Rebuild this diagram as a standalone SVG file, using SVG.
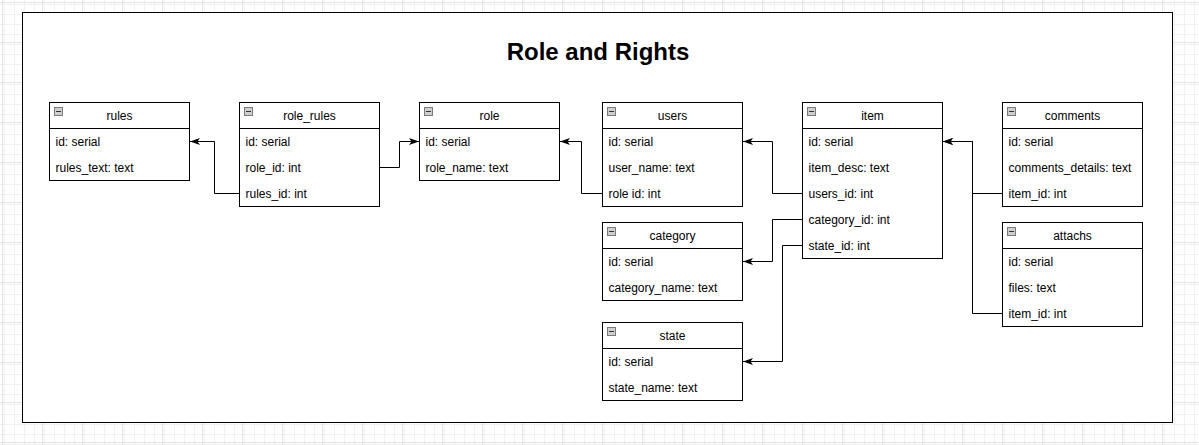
<svg xmlns="http://www.w3.org/2000/svg" width="1199" height="445" viewBox="0 0 1199 445">
<defs>
<pattern id="minor" x="2" y="2" width="10" height="10" patternUnits="userSpaceOnUse">
<path d="M0 0.5H10M0.5 0V10" fill="none" stroke="#f1f1f1" stroke-width="1"/>
</pattern>
<pattern id="major" x="2" y="2" width="40" height="40" patternUnits="userSpaceOnUse">
<rect width="40" height="40" fill="url(#minor)"/>
<path d="M0 0.5H40M0.5 0V40" fill="none" stroke="#e3e3e3" stroke-width="1"/>
</pattern>
<marker id="arr" viewBox="0 0 10 10" refX="10" refY="5" markerWidth="10" markerHeight="10" markerUnits="userSpaceOnUse" orient="auto">
<path d="M0 1.5L10 5L0 8.5L2.5 5Z" fill="#000"/>
</marker>
<g id="icon">
<rect x="0.5" y="0.5" width="8" height="8" fill="#cfcfcf" stroke="#7a7a7a" stroke-width="1"/>
<path d="M2 4.5H7" stroke="#333" stroke-width="1"/>
</g>
</defs>
<style>
.t{font-family:"Liberation Sans",Arial,Helvetica,sans-serif;font-size:12px;fill:#000}
.h{text-anchor:middle}
.box{fill:#fff;stroke:#000;stroke-width:1}
.ln{stroke:#000;stroke-width:1}
.c{fill:none;stroke:#000;stroke-width:1;marker-end:url(#arr)}
.title{font-family:"Liberation Sans",Arial,Helvetica,sans-serif;font-size:24px;font-weight:bold;text-anchor:middle;fill:#000}
</style>
<rect width="1199" height="445" fill="#fff"/>
<rect width="1199" height="445" fill="url(#major)"/>
<rect x="22.5" y="12.5" width="1150" height="410" fill="#fff" stroke="#000" stroke-width="1"/>
<text class="title" x="598" y="60">Role and Rights</text>

<g id="rules" transform="translate(49.5,102.5)">
<rect class="box" width="140" height="78"/>
<line class="ln" x1="0" y1="26" x2="140" y2="26"/>
<use href="#icon" x="4.5" y="4.5"/>
<text class="t h" x="70" y="17.5">rules</text>
<text class="t" x="6" y="43.5">id: serial</text>
<text class="t" x="6" y="69.5">rules_text: text</text>
</g>

<g id="role_rules" transform="translate(239.5,102.5)">
<rect class="box" width="140" height="104"/>
<line class="ln" x1="0" y1="26" x2="140" y2="26"/>
<use href="#icon" x="4.5" y="4.5"/>
<text class="t h" x="70" y="17.5">role_rules</text>
<text class="t" x="6" y="43.5">id: serial</text>
<text class="t" x="6" y="69.5">role_id: int</text>
<text class="t" x="6" y="95.5">rules_id: int</text>
</g>

<g id="role" transform="translate(419.5,102.5)">
<rect class="box" width="140" height="78"/>
<line class="ln" x1="0" y1="26" x2="140" y2="26"/>
<use href="#icon" x="4.5" y="4.5"/>
<text class="t h" x="70" y="17.5">role</text>
<text class="t" x="6" y="43.5">id: serial</text>
<text class="t" x="6" y="69.5">role_name: text</text>
</g>

<g id="users" transform="translate(602.5,102.5)">
<rect class="box" width="140" height="104"/>
<line class="ln" x1="0" y1="26" x2="140" y2="26"/>
<use href="#icon" x="4.5" y="4.5"/>
<text class="t h" x="70" y="17.5">users</text>
<text class="t" x="6" y="43.5">id: serial</text>
<text class="t" x="6" y="69.5">user_name: text</text>
<text class="t" x="6" y="95.5">role id: int</text>
</g>

<g id="category" transform="translate(602.5,222.5)">
<rect class="box" width="140" height="78"/>
<line class="ln" x1="0" y1="26" x2="140" y2="26"/>
<use href="#icon" x="4.5" y="4.5"/>
<text class="t h" x="70" y="17.5">category</text>
<text class="t" x="6" y="43.5">id: serial</text>
<text class="t" x="6" y="69.5">category_name: text</text>
</g>

<g id="state" transform="translate(602.5,322.5)">
<rect class="box" width="140" height="78"/>
<line class="ln" x1="0" y1="26" x2="140" y2="26"/>
<use href="#icon" x="4.5" y="4.5"/>
<text class="t h" x="70" y="17.5">state</text>
<text class="t" x="6" y="43.5">id: serial</text>
<text class="t" x="6" y="69.5">state_name: text</text>
</g>

<g id="item" transform="translate(802.5,102.5)">
<rect class="box" width="140" height="156"/>
<line class="ln" x1="0" y1="26" x2="140" y2="26"/>
<use href="#icon" x="4.5" y="4.5"/>
<text class="t h" x="70" y="17.5">item</text>
<text class="t" x="6" y="43.5">id: serial</text>
<text class="t" x="6" y="69.5">item_desc: text</text>
<text class="t" x="6" y="95.5">users_id: int</text>
<text class="t" x="6" y="121.5">category_id: int</text>
<text class="t" x="6" y="147.5">state_id: int</text>
</g>

<g id="comments" transform="translate(1002.5,102.5)">
<rect class="box" width="140" height="104"/>
<line class="ln" x1="0" y1="26" x2="140" y2="26"/>
<use href="#icon" x="4.5" y="4.5"/>
<text class="t h" x="70" y="17.5">comments</text>
<text class="t" x="6" y="43.5">id: serial</text>
<text class="t" x="6" y="69.5">comments_details: text</text>
<text class="t" x="6" y="95.5">item_id: int</text>
</g>

<g id="attachs" transform="translate(1002.5,222.5)">
<rect class="box" width="140" height="104"/>
<line class="ln" x1="0" y1="26" x2="140" y2="26"/>
<use href="#icon" x="4.5" y="4.5"/>
<text class="t h" x="70" y="17.5">attachs</text>
<text class="t" x="6" y="43.5">id: serial</text>
<text class="t" x="6" y="69.5">files: text</text>
<text class="t" x="6" y="95.5">item_id: int</text>
</g>

<g id="connectors">
<path class="c" d="M239.5 193.5H214.5V141.5H190"/>
<path class="c" d="M379.5 167.5H399.5V141.5H419"/>
<path class="c" d="M602.5 193.5H581.5V141.5H560"/>
<path class="c" d="M802.5 193.5H772.5V141.5H743"/>
<path class="c" d="M802.5 219.5H772.5V261.5H743"/>
<path class="c" d="M802.5 245.5H782.5V361.5H743"/>
<path class="c" d="M1002.5 193.5H972.5V141.5H943"/>
<path class="c" d="M1002.5 313.5H972.5V141.5H943"/>
</g>
</svg>
